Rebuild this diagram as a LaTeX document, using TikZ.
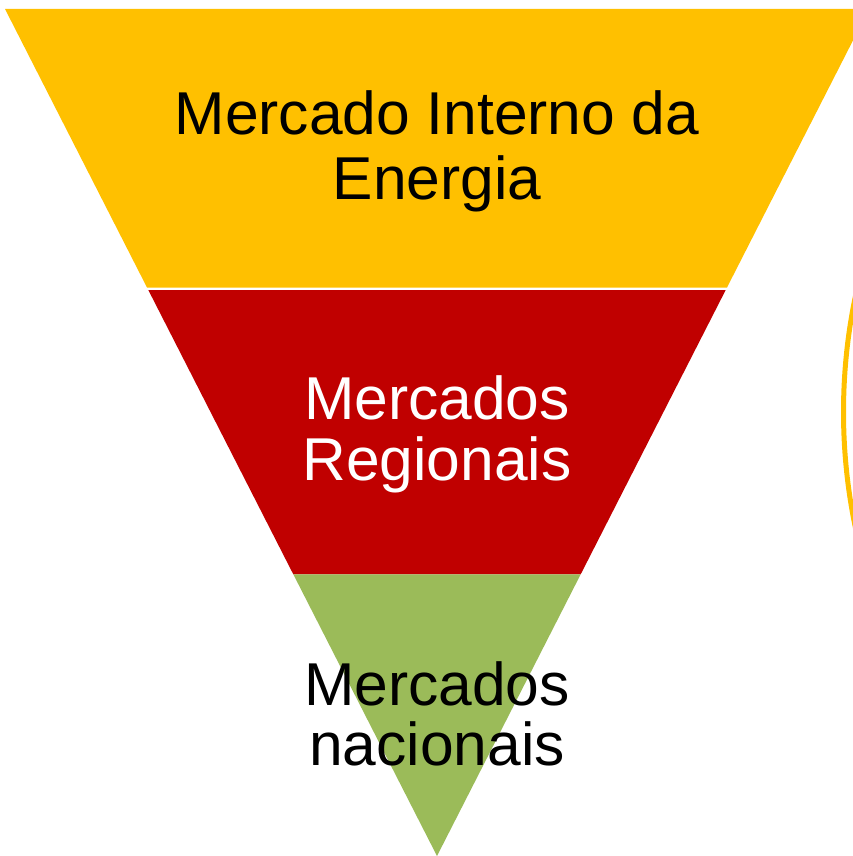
\documentclass[tikz,border=0pt]{standalone}
\usepackage{fontspec}
\setmainfont{Liberation Sans}
\definecolor{tyellow}{HTML}{FFC000}
\definecolor{tred}{HTML}{C00000}
\definecolor{tgreen}{HTML}{9BBB59}
\tikzset{
  lbl/.style={anchor=base, inner sep=0pt, font=\fontsize{60.5}{64}\selectfont},
}
\begin{document}
\begin{tikzpicture}[x=1pt,y=-1pt]
\useasboundingbox (0,0) rectangle (853,856);
\begin{scope}
\clip (0,0) rectangle (853,856);
\fill[tyellow] (5,9) -- (869,9) -- (727.0,287.5) -- (147.0,287.5) -- cycle;
\fill[tred] (148.3,290) -- (725.7,290) -- (580.7,574.3) -- (293.3,574.3) -- cycle;
\fill[tgreen] (293.3,574.3) -- (580.7,574.3) -- (437,856) -- cycle;
\draw[tyellow, line width=5pt] (1406.5,412) circle[radius=563];
\end{scope}
\node[lbl, text=black] (t1a) at (437,135) {Mercado Interno da};
\node[lbl, text=black] (t1b) at (437,199) {Energia};
\node[lbl, text=white] (t2a) at (437,419) {Mercados};
\node[lbl, text=white] (t2b) at (437,480) {Regionais};
\node[lbl, text=black] (t3a) at (437,705) {Mercados};
\node[lbl, text=black] (t3b) at (437,765) {nacionais};
\end{tikzpicture}
\end{document}
